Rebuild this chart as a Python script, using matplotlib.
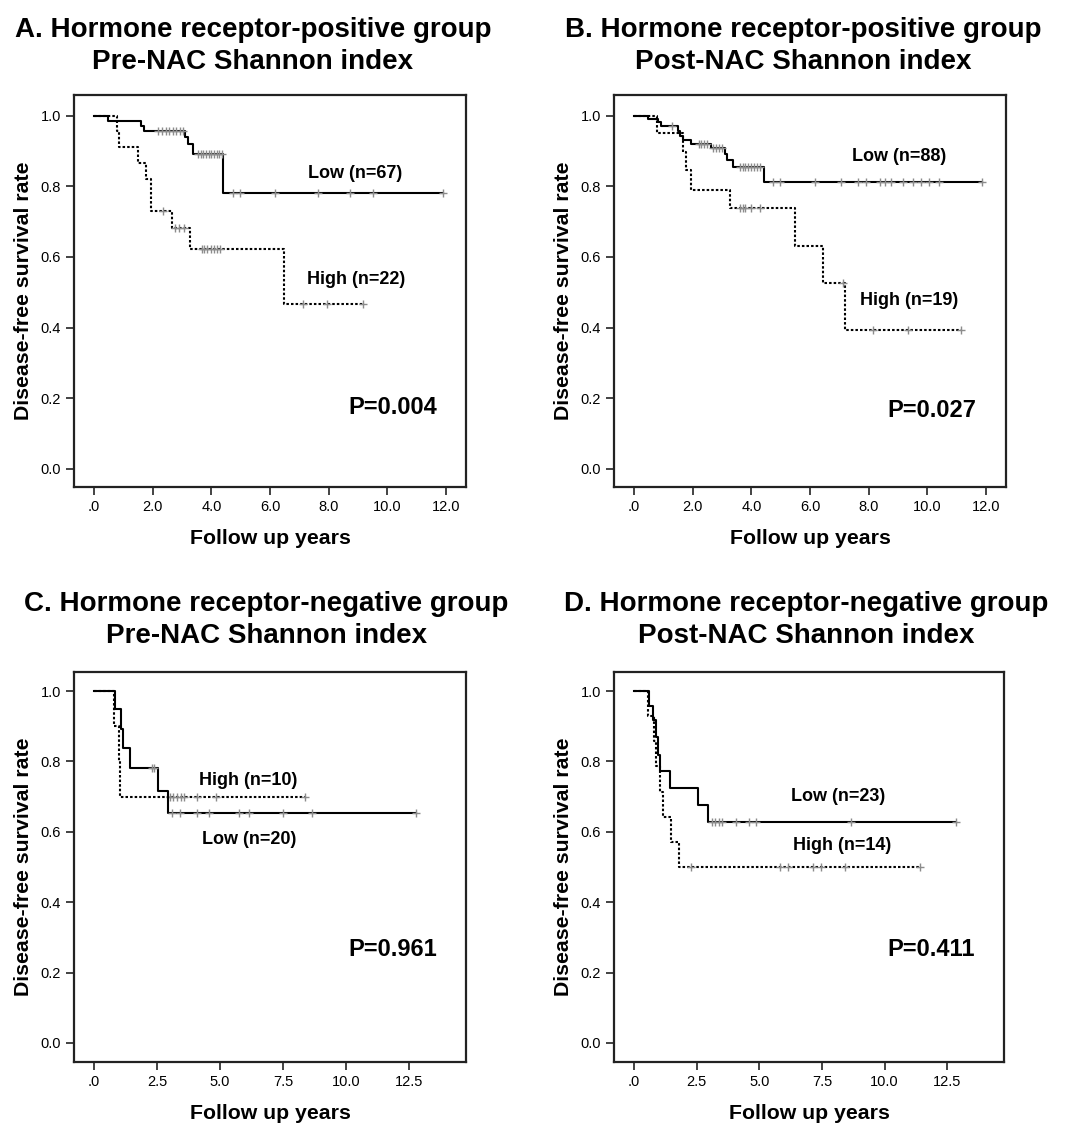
import numpy as np
import matplotlib.pyplot as plt

plt.rcParams['font.family'] = ['Liberation Sans', 'DejaVu Sans']

# ---- данные: время событий (годы), уровни выживаемости, цензурированные наблюдения ----
A_low_t = [0.49, 1.60, 1.70, 3.10, 3.20, 3.36, 4.41]
A_low_s = [0.985, 0.97, 0.955, 0.94, 0.92, 0.89, 0.78]
A_low_cens = [2.19, 2.32, 2.45, 2.55, 2.68, 2.80, 2.93, 3.05, 3.55, 3.64, 3.73, 3.82,
              3.91, 4.00, 4.09, 4.18, 4.27, 4.37, 4.75, 4.98, 6.17, 7.65, 8.71, 9.52, 11.89]
A_high_t = [0.77, 0.86, 1.51, 1.77, 1.93, 2.65, 3.27, 6.48]
A_high_s = [0.955, 0.912, 0.866, 0.82, 0.73, 0.682, 0.622, 0.466]
A_high_cens = [2.36, 2.76, 2.91, 3.07, 3.67, 3.75, 3.85, 4.00, 4.10, 4.20, 4.30, 7.14, 7.93, 9.18]

B_low_t = [0.49, 0.83, 0.92, 1.51, 1.58, 1.68, 1.93, 2.64, 3.10, 3.18, 3.36, 4.42]
B_low_s = [0.990, 0.981, 0.969, 0.956, 0.943, 0.930, 0.919, 0.907, 0.892, 0.873, 0.854, 0.811]
B_low_cens = [1.28, 2.20, 2.30, 2.40, 2.50, 2.70, 2.80, 2.90, 3.00, 3.60, 3.70, 3.80, 3.90,
              4.00, 4.10, 4.20, 4.30, 4.74, 4.97, 6.16, 7.06, 7.63, 7.91, 8.37, 8.57, 8.76,
              9.16, 9.50, 9.78, 10.07, 10.38, 11.86]
B_high_t = [0.77, 1.68, 1.77, 1.93, 3.27, 5.48, 6.46, 7.20]
B_high_s = [0.950, 0.897, 0.845, 0.790, 0.737, 0.630, 0.526, 0.394]
B_high_cens = [3.60, 3.70, 3.80, 4.00, 4.30, 7.14, 8.14, 9.33, 11.15]

C_low_t = [0.83, 1.06, 1.16, 1.43, 2.53, 2.95]
C_low_s = [0.95, 0.893, 0.838, 0.782, 0.716, 0.652]
C_low_cens = [2.29, 2.38, 3.08, 3.41, 4.08, 4.58, 5.77, 6.17, 7.51, 8.64, 12.78]
C_high_t = [0.79, 1.00, 1.03]
C_high_s = [0.90, 0.80, 0.70]
C_high_cens = [3.02, 3.15, 3.28, 3.44, 3.57, 4.08, 4.84, 8.37]

D_low_t = [0.61, 0.77, 0.88, 0.97, 1.06, 1.43, 2.54, 2.96]
D_low_s = [0.957, 0.917, 0.870, 0.817, 0.772, 0.725, 0.676, 0.628]
D_low_cens = [3.10, 3.23, 3.39, 3.53, 4.06, 4.59, 4.86, 8.67, 12.83]
D_high_t = [0.57, 0.80, 0.90, 1.06, 1.17, 1.47, 1.79]
D_high_s = [0.928, 0.857, 0.786, 0.713, 0.642, 0.571, 0.50]
D_high_cens = [2.30, 5.82, 6.15, 7.14, 7.48, 8.41, 11.42]

titles = ['A. Hormone receptor-positive group\nPre-NAC Shannon index',
          'B. Hormone receptor-positive group\nPost-NAC Shannon index',
          'C. Hormone receptor-negative group\nPre-NAC Shannon index',
          'D. Hormone receptor-negative group\nPost-NAC Shannon index']
p_values = ['P=0.004', 'P=0.027', 'P=0.961', 'P=0.411']
low_labels = ['Low (n=67)', 'Low (n=88)', 'Low (n=20)', 'Low (n=23)']
high_labels = ['High (n=22)', 'High (n=19)', 'High (n=10)', 'High (n=14)']

xticks_12 = [0, 2, 4, 6, 8, 10, 12]
xticklabels_12 = ['.0', '2.0', '4.0', '6.0', '8.0', '10.0', '12.0']
xticks_125 = [0, 2.5, 5, 7.5, 10, 12.5]
xticklabels_125 = ['.0', '2.5', '5.0', '7.5', '10.0', '12.5']
yticks = [0.0, 0.2, 0.4, 0.6, 0.8, 1.0]
yticklabels = ['0.0', '0.2', '0.4', '0.6', '0.8', '1.0']


def km_curve(ax, t, s, cens, ls):
    end = max(cens)
    x = [0] + list(t) + [end]
    y = [1.0] + list(s) + [s[-1]]
    ax.step(x, y, where='post', color='black', lw=1.5, ls=ls)
    # значения для меток цензурирования
    cy = [y[np.searchsorted(x, c, side='right') - 1] for c in cens]
    ax.plot(cens, cy, ls='none', marker='+', ms=6, mew=1.0, color='#8c8c8c')


W, H = 1072, 1124
fig = plt.figure(figsize=(W / 100, H / 100), dpi=100)

# положения осей в пикселях: left, top, right, bottom
boxes = [(74, 95, 466, 487), (614, 95, 1006, 487),
         (74, 672, 466, 1062), (614, 672, 1004, 1062)]
title_x = [253, 803, 266, 806]
title_y = [46, 46, 620, 620]

panels = [
    (A_low_t, A_low_s, A_low_cens, A_high_t, A_high_s, A_high_cens),
    (B_low_t, B_low_s, B_low_cens, B_high_t, B_high_s, B_high_cens),
    (C_low_t, C_low_s, C_low_cens, C_high_t, C_high_s, C_high_cens),
    (D_low_t, D_low_s, D_low_cens, D_high_t, D_high_s, D_high_cens),
]
low_pos = [(8.9, 0.835), (9.05, 0.883), (6.17, 0.578), (8.14, 0.70)]
high_pos = [(8.95, 0.535), (9.39, 0.478), (6.12, 0.747), (8.31, 0.562)]
p_pos = [(10.2, 0.175), (10.15, 0.165), (11.87, 0.265), (11.87, 0.265)]

for i, (lt, ls_, lc, ht, hs, hc) in enumerate(panels):
    l, t, r, b = boxes[i]
    ax = fig.add_axes([l / W, 1 - b / H, (r - l) / W, (b - t) / H])
    km_curve(ax, ht, hs, hc, (0, (1.2, 1.0)))
    km_curve(ax, lt, ls_, lc, '-')

    if i < 2:
        ax.set_xlim(-0.68, 12.68)
        ax.set_ylim(-0.051, 1.058)
        ax.set_xticks(xticks_12)
        ax.set_xticklabels(xticklabels_12)
    else:
        ax.set_xlim(-0.79, 14.76)
        ax.set_ylim(-0.054, 1.054)
        ax.set_xticks(xticks_125)
        ax.set_xticklabels(xticklabels_125)
    ax.set_yticks(yticks)
    ax.set_yticklabels(yticklabels)
    ax.tick_params(labelsize=10.5, length=6, width=1.2, color='#222222')
    for sp in ax.spines.values():
        sp.set_linewidth(1.6)
        sp.set_color('#222222')

    ax.set_xlabel('Follow up years', fontsize=15.3, fontweight='bold', labelpad=11)
    ax.set_ylabel('Disease-free survival rate', fontsize=15.3, fontweight='bold', labelpad=5)

    ax.text(*low_pos[i], low_labels[i], fontsize=13, fontweight='bold', ha='center', va='center')
    ax.text(*high_pos[i], high_labels[i], fontsize=13, fontweight='bold', ha='center', va='center')
    ax.text(*p_pos[i], p_values[i], fontsize=17, fontweight='bold', ha='center', va='center')

    fig.text(title_x[i] / W, 1 - title_y[i] / H, titles[i], fontsize=20, fontweight='bold',
             ha='center', va='center', linespacing=1.32)

fig.savefig('out.png', dpi=100)
